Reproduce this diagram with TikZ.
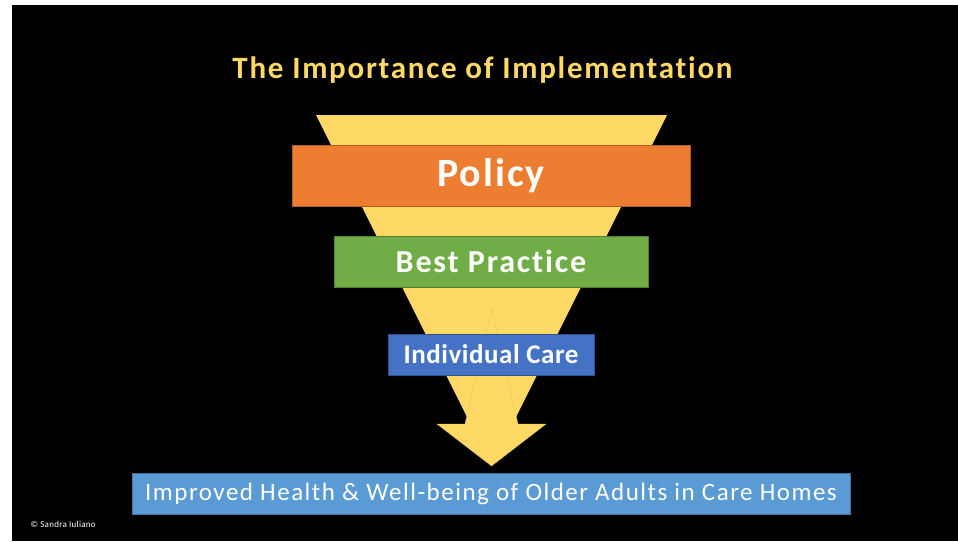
\documentclass[tikz,border=0pt]{standalone}
\usepackage{fontspec}
\setmainfont{Carlito}[Ligatures=NoCommon]
\definecolor{funnelyellow}{HTML}{FFD966}
\definecolor{funneledge}{HTML}{E8BE4E}
\definecolor{policyfill}{HTML}{ED7D31}
\definecolor{policyedge}{HTML}{AE5A21}
\definecolor{practicefill}{HTML}{70AD47}
\definecolor{practiceedge}{HTML}{507E32}
\definecolor{carefill}{HTML}{4472C4}
\definecolor{careedge}{HTML}{2F528F}
\definecolor{outcomefill}{HTML}{5B9BD5}
\definecolor{outcomeedge}{HTML}{41719C}
\newcommand{\slidefont}[2]{\fontsize{#1}{#1}\selectfont\addfontfeatures{LetterSpace=#2}}
\tikzset{
  levelbox/.style={rectangle, inner sep=0pt, line width=0.8pt, text=white},
}
\begin{document}
\begin{tikzpicture}[x=1pt,y=-1pt]
  % canvas
  \useasboundingbox (0,0) rectangle (958,541);
  \fill[white] (0,0) rectangle (958,541);
  \fill[black] (12,5) rectangle (958,541);

  % heading
  \node[text=funnelyellow, font=\bfseries\slidefont{31}{5.6}] (title) at (482.5,70) {The Importance of Implementation};

  % funnel
  \fill[funnelyellow] (316,115) -- (667,115) -- (491.5,466) -- cycle;

  % downward arrow inside the funnel
  \filldraw[fill=funnelyellow, draw=funneledge, line width=0.3pt]
    (491.5,310) -- (518,424) -- (546,424) -- (491.5,466) -- (437,424) -- (465,424) -- cycle;

  % levels
  \node[levelbox, fill=policyfill, draw=policyedge, minimum width=398pt, minimum height=61pt,
        font=\bfseries\slidefont{40}{5}] (policy) at (491,175.5) {Policy};
  \node[levelbox, fill=practicefill, draw=practiceedge, minimum width=314pt, minimum height=51pt,
        font=\bfseries\slidefont{32}{5.8}] (practice) at (491,261.5) {Best Practice};
  \node[levelbox, fill=carefill, draw=careedge, minimum width=206pt, minimum height=41pt,
        font=\bfseries\slidefont{27}{2}] (care) at (491,354.5) {Individual Care};
  \node[levelbox, fill=outcomefill, draw=outcomeedge, minimum width=718pt, minimum height=41pt,
        font=\slidefont{25}{6}] (outcome) at (491,493.5) {Improved Health \& Well-being of Older Adults in Care Homes};

  % credit
  \node[text=white, anchor=west, font=\slidefont{9}{3}] (credit) at (27,524) {© Sandra Iuliano};
\end{tikzpicture}
\end{document}
